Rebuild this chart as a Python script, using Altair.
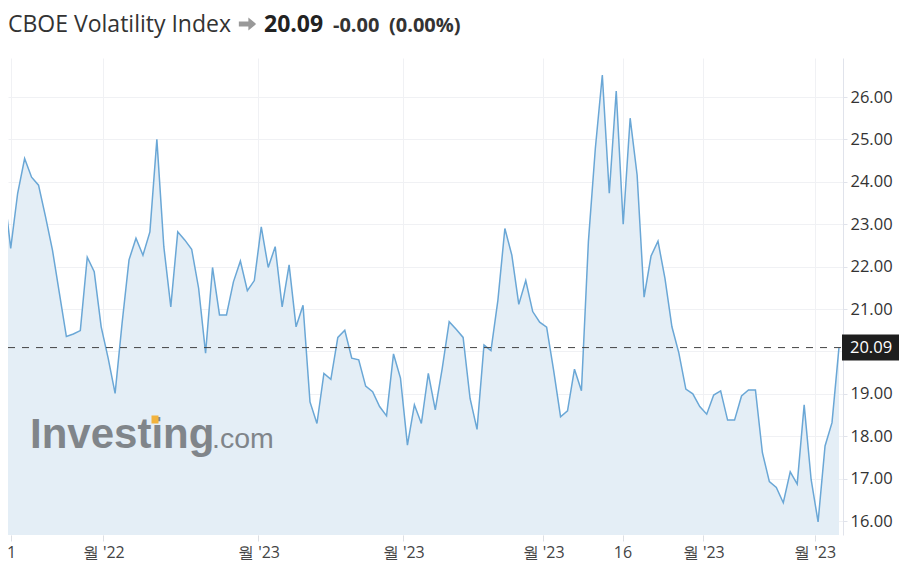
import altair as alt
import pandas as pd

# ---- data ----
values = [
    23.85, 22.43, 23.73, 24.55, 24.11, 23.92, 23.18, 22.39, 21.37, 20.35,
    20.41, 20.49, 22.22, 21.88, 20.58, 19.84, 19.01, 20.66, 22.16, 22.67,
    22.27, 22.82, 25.00, 22.47, 21.05, 22.82, 22.63, 22.41, 21.49, 19.96,
    21.98, 20.86, 20.86, 21.64, 22.13, 21.43, 21.67, 22.94, 21.98, 22.47,
    21.05, 22.04, 20.58, 21.09, 18.81, 18.30, 19.48, 19.34, 20.33, 20.50,
    19.84, 19.80, 19.18, 19.05, 18.70, 18.48, 19.94, 19.37, 17.79, 18.74,
    18.30, 19.48, 18.62, 19.60, 20.70, 20.52, 20.33, 18.89, 18.16, 20.15,
    20.02, 21.21, 22.90, 22.27, 21.11, 21.67, 20.94, 20.69, 20.57, 19.56,
    18.46, 18.60, 19.58, 19.07, 22.59, 24.79, 26.52, 23.73, 26.14, 23.00,
    25.50, 24.16, 21.28, 22.25, 22.60, 21.72, 20.58, 19.96, 19.11, 19.00,
    18.70, 18.52, 18.97, 19.07, 18.38, 18.38, 18.95, 19.09, 19.09, 17.61,
    16.93, 16.79, 16.43, 17.16, 16.87, 18.74, 16.98, 15.98, 17.77, 18.32,
    20.09,
]
index = list(range(len(values)))
x_ticks = [1.04, 14.3, 36.6, 57.4, 77.5, 88.9, 100.5, 116.5]
x_labels = ["1", "월 '22", "월 '23", "월 '23", "월 '23", "16", "월 '23", "월 '23"]
y_ticks = [16, 17, 18, 19, 20, 21, 22, 23, 24, 25, 26]
last_value = [20.09]
title_name = ["CBOE Volatility Index"]
title_price = ["20.09"]
title_change = ["-0.00"]
title_pct = ["(0.00%)"]
watermark_main = ["Investing"]
watermark_tail = [".com"]

# ---- layout ----
W, H = 835, 477
FONT = "Open Sans"
TB = -26.5  # title baseline (relative to plot top)

df = pd.DataFrame({"i": index, "v": values})
df_last = pd.DataFrame({"v": last_value})

xs = alt.Scale(domain=[0.612, 120.58], nice=False, zero=False)
ys = alt.Scale(domain=[15.67, 26.92], nice=False, zero=False)

arr_vals = "[" + ",".join(str(v) for v in x_ticks) + "]"
arr_labels = "[" + ",".join('"' + s + '"' for s in x_labels) + "]"
x_label_expr = f"{arr_labels}[indexof({arr_vals}, datum.value)]"

X = alt.X(
    "i:Q", scale=xs,
    axis=alt.Axis(
        values=x_ticks, labelExpr=x_label_expr, title=None,
        grid=True, gridColor="#f0f1f4", domain=False,
        tickColor="#dcdfe4", tickSize=6, labelFont=FONT, labelFontSize=16,
        labelColor="#444444", labelPadding=3, labelFlush=False,
        labelOverlap=False,
    ),
)
Y = alt.Y(
    "v:Q", scale=ys,
    axis=alt.Axis(
        orient="right", values=y_ticks, title=None,
        labelExpr="datum.value == 20 ? '' : format(datum.value, '.2f')",
        grid=True, gridColor="#f0f1f4", domainColor="#e0e3eb",
        tickColor="#e0e3eb", tickSize=4, labelPadding=3, labelFont=FONT,
        labelFontSize=16.5, labelColor="#333333", labelOverlap=False,
    ),
)

area = alt.Chart(df).mark_area(color="#e4eef6", clip=True).encode(
    x=X, y=Y, y2=alt.value(H)
)
line = alt.Chart(df).mark_line(color="#6aa7d6", strokeWidth=1.5, clip=True).encode(
    x=X, y=Y
)
dash = alt.Chart(df_last).mark_rule(
    strokeDash=[7, 7], color="#444444", strokeWidth=1
).encode(y=Y, x=alt.value(0), x2=alt.value(W))
box = alt.Chart(df_last).mark_rule(
    color="#1e1e1e", strokeWidth=26, strokeCap="butt"
).encode(y=Y, x=alt.value(W - 1), x2=alt.value(W + 56))
box_text = alt.Chart(df_last).mark_text(
    align="left", baseline="middle", color="white", font=FONT, fontSize=16.5
).encode(y=Y, x=alt.value(W + 7), text=alt.Text("v:Q", format=".2f"))


def label(data, x, y, size, weight="normal", color="#333333", font=FONT, opacity=1.0):
    return alt.Chart(pd.DataFrame({"t": data})).mark_text(
        align="left", baseline="alphabetic", font=font, fontSize=size,
        fontWeight=weight, color=color, opacity=opacity,
    ).encode(text="t:N", x=alt.value(x), y=alt.value(y))


t1 = label(title_name, 0, TB, 23, color="#333333")
arrow_shape = "M-1,-0.3L0.1,-0.3L0.1,-0.75L1,0L0.1,0.75L0.1,0.3L-1,0.3Z"
arrow = alt.Chart(pd.DataFrame({"a": [0]})).mark_point(
    shape=arrow_shape, size=300, filled=True, color="#999999", opacity=1
).encode(x=alt.value(239.5), y=alt.value(TB - 7.5))
t2 = label(title_price, 256, TB, 23, weight="bold", color="#222222")
t3 = label(title_change, 325, TB, 20, weight="bold", color="#333333")
t4 = label(title_pct, 381, TB, 20, weight="bold", color="#333333")

w1 = label(watermark_main, 22, 390, 42, weight="bold", color="#7b8085",
           font="Liberation Sans", opacity=0.95)
w2 = label(watermark_tail, 204, 390, 28.5, color="#7b8085",
           font="Liberation Sans", opacity=0.95)
tittle = alt.Chart(pd.DataFrame({"a": [0]})).mark_rule(
    color="#f2b33d", strokeWidth=8, strokeCap="butt"
).encode(x=alt.value(143.5), x2=alt.value(150.5), y=alt.value(361.5))

chart = alt.layer(
    area, line, w1, w2, tittle, dash, box, box_text, t1, arrow, t2, t3, t4
).properties(
    width=W, height=H,
    autosize=alt.AutoSizeParams(type="none"),
    padding={"left": 0, "top": 50, "right": 59, "bottom": 28},
    background="white",
).configure_view(stroke=None)

chart.save("out.html", embed_options={"renderer": "svg", "actions": False})
